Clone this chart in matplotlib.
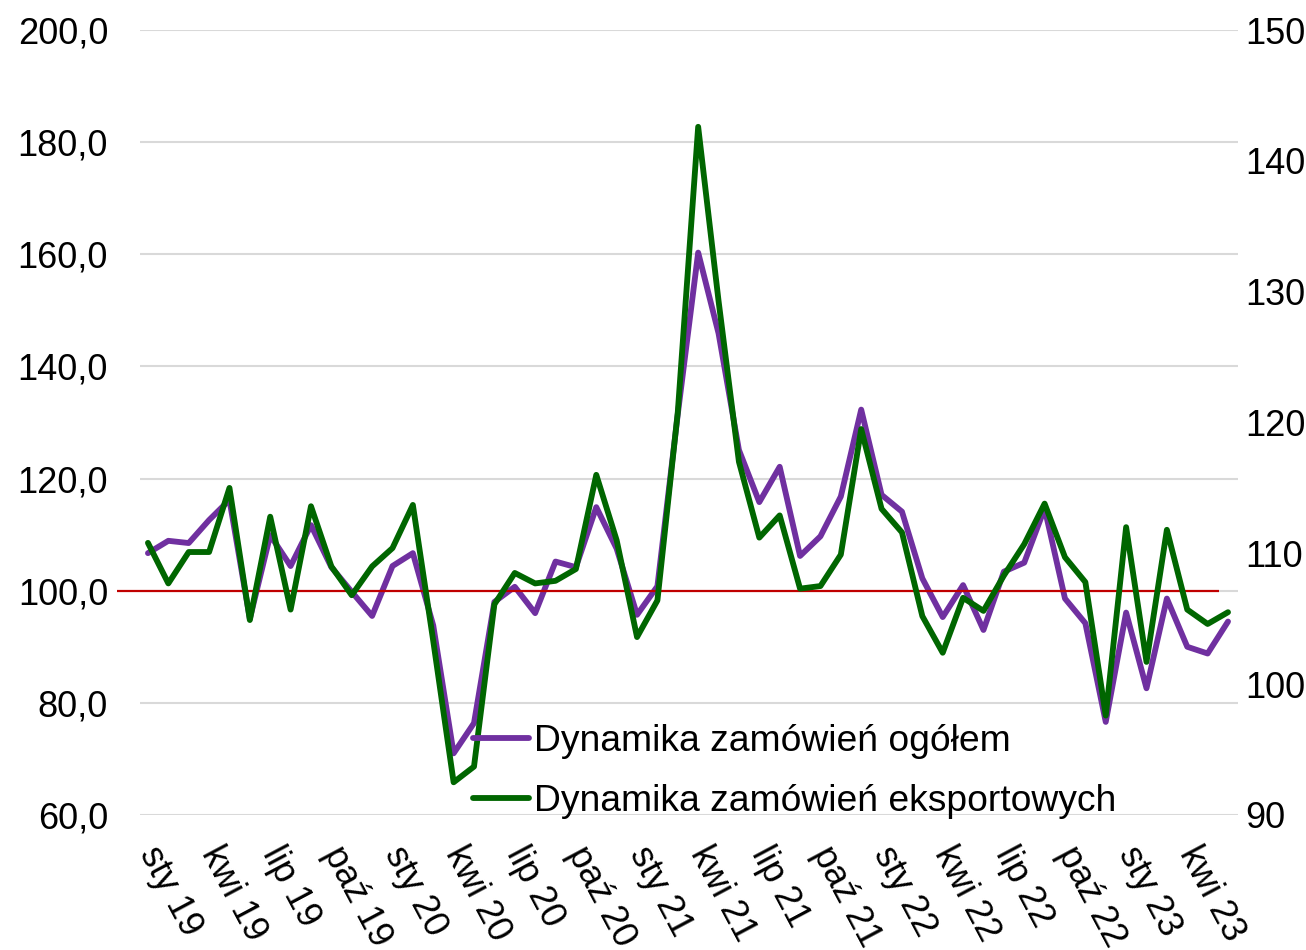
import matplotlib
matplotlib.use("Agg")
import matplotlib.pyplot as plt
import numpy as np

plt.rcParams['font.family'] = ['Liberation Sans', 'DejaVu Sans']

# Monthly data sty 19 .. cze 23
months = ["sty", "lut", "mar", "kwi", "maj", "cze", "lip", "sie", "wrz", "paź", "lis", "gru"]
years = ["19", "20", "21", "22", "23"]
n_points = 54
x_labels = [f"{months[i % 12]} {years[i // 12]}" for i in range(n_points)]

ogolem = [106.7, 108.9, 108.5, 112.6, 116.2, 95.0, 109.9, 104.4, 111.7, 104.2,
          99.8, 95.5, 104.4, 106.7, 93.8, 71.0, 76.4, 98.0, 100.7, 96.0,
          105.2, 104.2, 114.9, 107.5, 95.7, 100.8, 131.5, 160.3, 145.9, 125.1,
          115.8, 122.1, 106.2, 109.7, 116.8, 132.3, 117.1, 114.1, 102.2, 95.3,
          101.0, 93.0, 103.4, 105.0, 114.7, 98.6, 94.2, 76.6, 96.1, 82.6,
          98.6, 90.0, 88.8, 94.5]

eksport = [110.8, 107.7, 110.1, 110.1, 115.0, 104.9, 112.8, 105.7, 113.6, 109.0,
           106.8, 109.0, 110.4, 113.7, 103.3, 92.5, 93.7, 106.1, 108.5, 107.7,
           107.9, 108.8, 116.0, 111.0, 103.6, 106.4, 120.8, 142.6, 129.3, 117.0,
           111.2, 112.9, 107.3, 107.5, 109.9, 119.5, 113.4, 111.6, 105.2, 102.4,
           106.6, 105.6, 108.3, 110.7, 113.8, 109.7, 107.8, 97.6, 112.0, 101.7,
           111.8, 105.7, 104.6, 105.5]

ref_level = 100.0
left_ticks = [60, 80, 100, 120, 140, 160, 180, 200]
right_ticks = [90, 100, 110, 120, 130, 140, 150]

series_names = ["Dynamika zamówień ogółem", "Dynamika zamówień eksportowych"]

FS_TICK = 26
FS_LEG = 26.8
fig = plt.figure(figsize=(13.06, 9.5), dpi=100)
ax = fig.add_axes([140/1306, 1-815/950, (1238-140)/1306, (815-30)/950])
ax2 = ax.twinx()

x = np.arange(n_points)
l1, = ax.plot(x, ogolem, color="#7030A0", lw=4.2, solid_joinstyle='round',
              solid_capstyle='round', zorder=3, label=series_names[0])
ax.hlines(ref_level, -1.52, 52.55, color="#C00000", lw=1.6, zorder=4, clip_on=False)
l2, = ax2.plot(x, eksport, color="#006600", lw=4.2, solid_joinstyle='round',
               solid_capstyle='round', zorder=3, label=series_names[1])

ax.set_xlim(-0.39, 53.49)
ax.set_ylim(60, 200)
ax2.set_ylim(90, 150)
ax.set_yticks(left_ticks)
ax.set_yticklabels([f"{v:.1f}".replace(".", ",") for v in left_ticks], fontsize=FS_TICK)
ax2.set_yticks(right_ticks)
ax2.set_yticklabels([str(v) for v in right_ticks], fontsize=FS_TICK)
ax.grid(axis='y', color="#D9D9D9", lw=1.5, zorder=0)
ax.set_axisbelow(True)

tick_pos = x[::3]
ax.set_xticks(tick_pos)
ax.set_xticklabels([x_labels[i] for i in tick_pos], fontsize=FS_TICK, rotation=-62,
                   ha='left', va='center', rotation_mode='anchor')
ax.tick_params(axis='x', length=0, pad=24)
ax.tick_params(axis='y', length=0, pad=23)
ax2.tick_params(axis='y', length=0, pad=5)

for a in (ax, ax2):
    for s in a.spines.values():
        s.set_visible(False)

fig.legend(handles=[l1, l2], labels=series_names, loc='upper left',
           bbox_to_anchor=(473/1306, 1-724/950), frameon=False, fontsize=FS_LEG,
           handlelength=1.5, handletextpad=0.15, labelspacing=0.66,
           borderpad=0, borderaxespad=0)

fig.savefig("out.png", dpi=100)
